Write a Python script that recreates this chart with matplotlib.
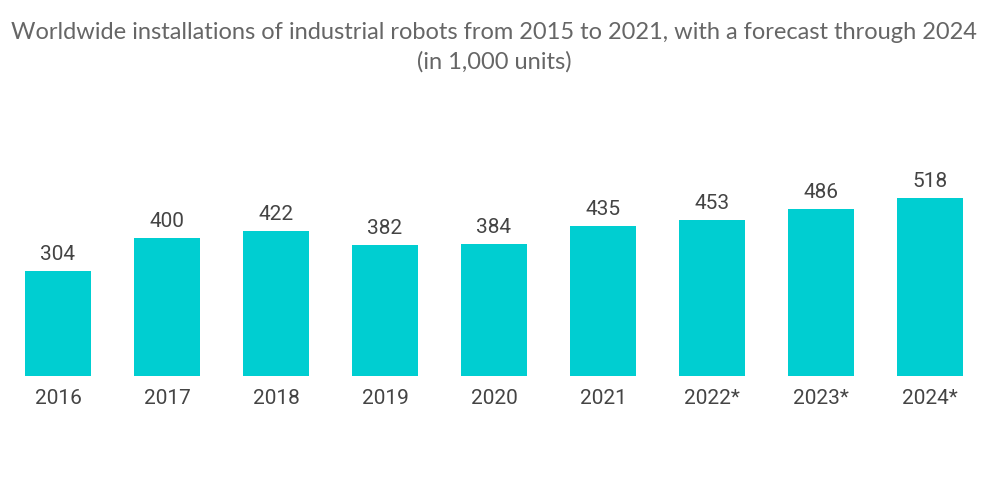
import matplotlib
matplotlib.use("Agg")
import matplotlib.pyplot as plt

years = ["2016", "2017", "2018", "2019", "2020", "2021", "2022*", "2023*", "2024*"]
values = [304, 400, 422, 382, 384, 435, 453, 486, 518]

title = "Worldwide installations of industrial robots from 2015 to 2021, with a forecast through 2024\n(in 1,000 units)"

fig = plt.figure(figsize=(10, 5.04), dpi=100)
ax = fig.add_axes([0.0035, 128/504, 0.981, 276/504])
x = list(range(len(years)))
bars = ax.bar(x, values, width=0.605, color="#00CED1")
ax.set_xlim(-0.5, len(years) - 0.5)
ax.set_ylim(0, 276/0.344)
for xi, v in zip(x, values):
    ax.annotate(str(v), (xi, v), xytext=(0, 5), textcoords="offset points",
                ha="center", va="bottom", fontsize=15, color="#444444", family="Roboto")
ax.set_xticks(x)
ax.set_xticklabels(years, fontsize=15, color="#444444", family="Roboto")
ax.tick_params(axis="x", length=0, pad=9)
ax.set_yticks([])
for s in ax.spines.values():
    s.set_visible(False)

fig.text(0.494, 1 - 47/504, title, ha="center", va="center", fontsize=17,
         color="#666666", family="Lato", linespacing=1.45)
fig.savefig("out.png", dpi=100)
